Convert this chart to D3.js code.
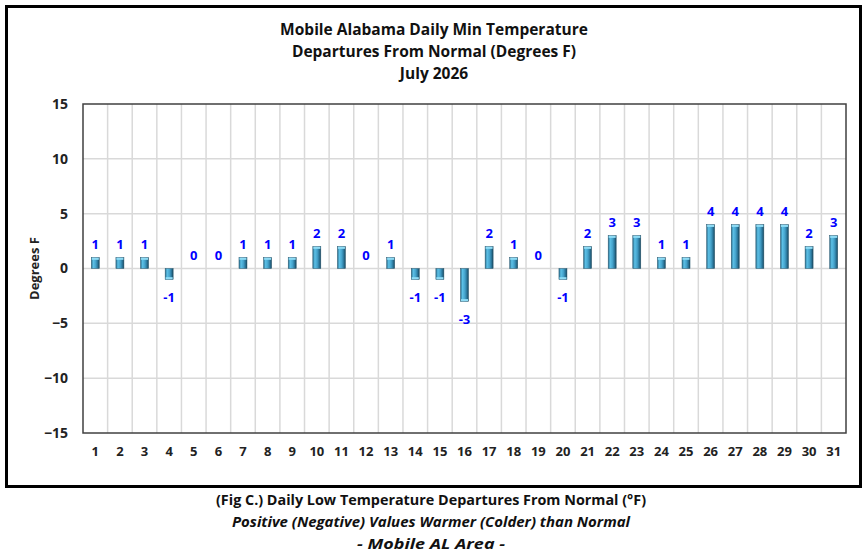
<!DOCTYPE html>
<html>
<head>
<meta charset="utf-8">
<script src="https://cdn.jsdelivr.net/npm/d3@7"></script>
<style>
  body { margin: 0; background: #fff; }
  svg { display: block; font-family: "Open Sans", "Noto Sans", sans-serif; }
</style>
</head>
<body>
<svg id="chart" width="868" height="556"></svg>
<script>
let days = d3.range(1, 32).map(String);
let departures = [1, 1, 1, -1, 0, 0, 1, 1, 1, 2, 2, 0, 1, -1, -1, -3, 2, 1, 0, -1, 2, 3, 3, 1, 1, 4, 4, 4, 4, 2, 3];
let yTicks = [-15, -10, -5, 0, 5, 10, 15];
let titleLines = ["Mobile Alabama Daily Min Temperature", "Departures From Normal (Degrees F)", "July 2026"];
let captionLines = [
  "(Fig C.) Daily Low Temperature Departures From Normal (°F)",
  "Positive (Negative) Values Warmer (Colder) than Normal",
  "- Mobile AL Area -"
];

let labelBlue = "#0000ff";
let gridGray = "#d9d9d9";
let axisDark = "#404040";

const svg = d3.select("#chart");
const margin = { top: 104, right: 22, bottom: 123, left: 83 };
const width = 868, height = 556;
const innerW = width - margin.left - margin.right;
const innerH = height - margin.top - margin.bottom;

// gradient for the 3d-looking bars
const defs = svg.append("defs");
const grad = defs.append("linearGradient").attr("id", "barGrad")
  .attr("x1", "0%").attr("x2", "100%").attr("y1", "0%").attr("y2", "0%");
grad.append("stop").attr("offset", "0%").attr("stop-color", "#2b6d8c");
grad.append("stop").attr("offset", "25%").attr("stop-color", "#5cc0e6");
grad.append("stop").attr("offset", "55%").attr("stop-color", "#45a3cc");
grad.append("stop").attr("offset", "80%").attr("stop-color", "#2a7599");
grad.append("stop").attr("offset", "100%").attr("stop-color", "#1b455a");

// outer frame
svg.append("rect")
  .attr("x", 6.5).attr("y", 6.5)
  .attr("width", 854).attr("height", 480)
  .attr("fill", "#fff")
  .attr("stroke", "#000")
  .attr("stroke-width", 3);

// title
svg.append("g").selectAll("text")
  .data(titleLines)
  .enter().append("text")
  .attr("x", 434)
  .attr("y", (d, i) => 35 + i * 22)
  .attr("text-anchor", "middle")
  .style("font-size", "15.5px")
  .style("font-weight", "bold")
  .style("fill", "#111")
  .text(d => d);

const g = svg.append("g").attr("transform", `translate(${margin.left}, ${margin.top})`);

//scales
const x = d3.scaleBand().domain(days).range([0, innerW]).paddingInner(0).paddingOuter(0);
const y = d3.scaleLinear().domain([-15, 15]).range([innerH, 0]);

// grid
g.selectAll(".vgrid")
  .data(days.slice(1))
  .enter().append("line")
  .attr("x1", d => x(d)).attr("x2", d => x(d))
  .attr("y1", 0).attr("y2", innerH)
  .attr("stroke", gridGray).attr("stroke-width", 1.5);

g.selectAll(".hgrid")
  .data(yTicks.slice(1, -1))
  .enter().append("line")
  .attr("x1", 0).attr("x2", innerW)
  .attr("y1", d => y(d)).attr("y2", d => y(d))
  .attr("stroke", gridGray).attr("stroke-width", 1.5);

// plot border
g.append("rect")
  .attr("x", 0).attr("y", 0)
  .attr("width", innerW).attr("height", innerH)
  .attr("fill", "none")
  .attr("stroke", axisDark)
  .attr("stroke-width", 1.5);

// Y axis
const yAxis = g.append("g")
  .call(d3.axisLeft(y).tickValues(yTicks).tickSize(0).tickPadding(15));
yAxis.select(".domain").remove();
yAxis.selectAll(".tick text")
  .style("font-size", "14px")
  .style("font-weight", "bold")
  .style("font-family", "Open Sans, sans-serif")
  .style("fill", "#222");

// X axis
const xAxis = g.append("g")
  .attr("transform", `translate(0, ${innerH})`)
  .call(d3.axisBottom(x).tickSize(0).tickPadding(14));
xAxis.select(".domain").remove();
xAxis.selectAll(".tick text")
  .style("font-size", "13px")
  .style("font-weight", "bold")
  .style("font-family", "Open Sans, sans-serif")
  .style("fill", "#222");

// y label
svg.append("text")
  .attr("transform", `translate(39, ${margin.top + y(0)}) rotate(-90)`)
  .attr("text-anchor", "middle")
  .style("font-size", "13px")
  .style("font-weight", "bold")
  .style("fill", "#222")
  .text("Degrees F");

const barW = 8;
const data = days.map((d, i) => ({ day: d, value: departures[i] }));

//draw bars
g.selectAll(".bar")
  .data(data.filter(d => d.value !== 0))
  .enter().append("rect")
  .attr("class", "bar")
  .attr("x", d => x(d.day) + x.bandwidth() / 2 - barW / 2)
  .attr("y", d => y(Math.max(0, d.value)))
  .attr("width", barW)
  .attr("height", d => Math.abs(y(d.value) - y(0)))
  .attr("fill", "url(#barGrad)")
  .attr("stroke", "#24566e")
  .attr("stroke-width", 0.5);

// light cap on the far end of each bar
g.selectAll(".cap")
  .data(data.filter(d => d.value !== 0))
  .enter().append("rect")
  .attr("x", d => x(d.day) + x.bandwidth() / 2 - barW / 2 + 0.5)
  .attr("y", d => d.value > 0 ? y(d.value) + 0.3 : y(d.value) - 2.3)
  .attr("width", barW - 1)
  .attr("height", 2)
  .attr("fill", "#8fdcf5");

// value labels
g.selectAll(".val")
  .data(data)
  .enter().append("text")
  .attr("x", d => x(d.day) + x.bandwidth() / 2)
  .attr("y", d => d.value >= 0 ? y(d.value) - 9 : y(d.value) + 23)
  .attr("text-anchor", "middle")
  .style("font-size", "13px")
  .style("font-weight", "bold")
  .style("fill", labelBlue)
  .text(d => d.value);

// caption under the frame
svg.append("g").selectAll("text")
  .data(captionLines)
  .enter().append("text")
  .attr("x", 431)
  .attr("y", (d, i) => 505 + i * 22)
  .attr("text-anchor", "middle")
  .style("font-size", "14px")
  .style("font-weight", "bold")
  .style("font-style", (d, i) => i === 0 ? "normal" : "italic")
  .style("fill", "#111")
  .attr("textLength", (d, i) => [430, 398, 148][i])
  .attr("lengthAdjust", "spacingAndGlyphs")
  .text(d => d);
</script>
</body>
</html>
